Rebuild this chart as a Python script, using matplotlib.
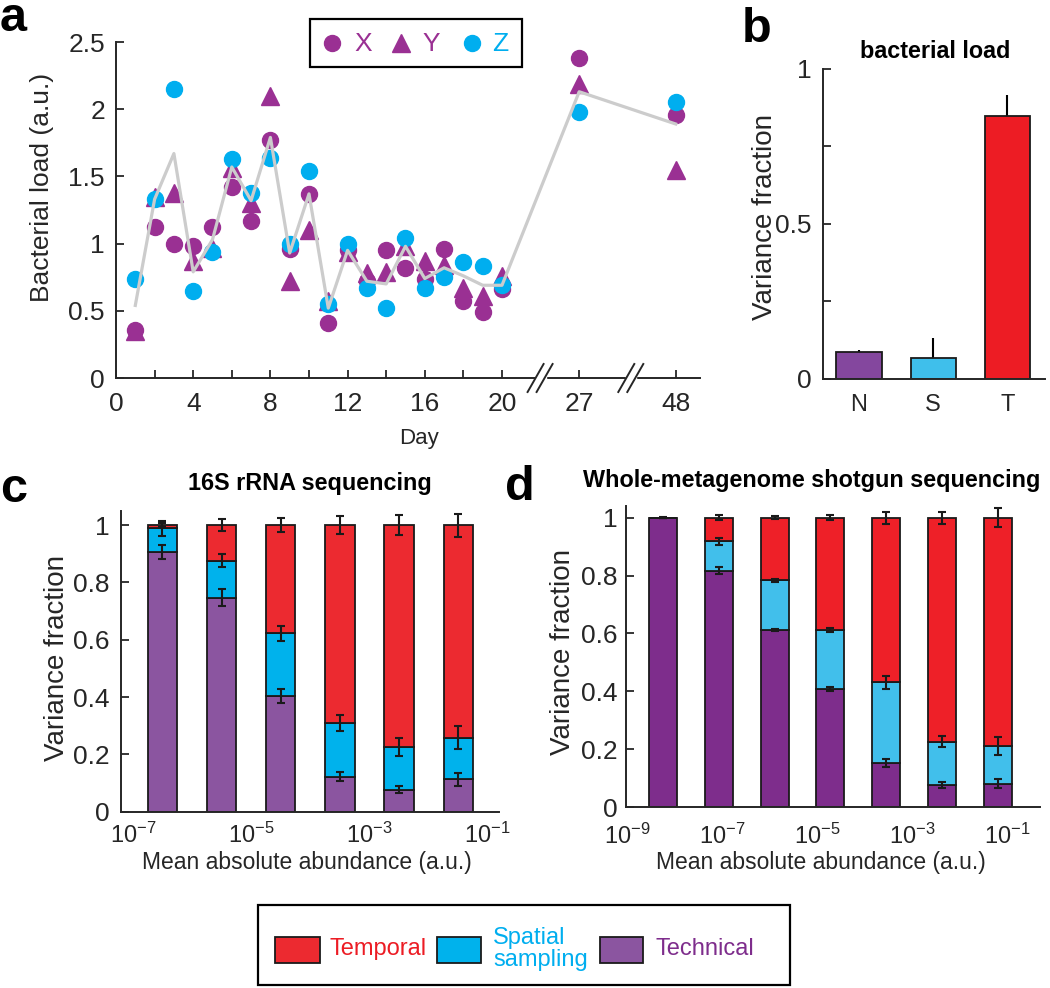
import numpy as np
import matplotlib
matplotlib.use("Agg")
import matplotlib.pyplot as plt
from matplotlib.lines import Line2D
from matplotlib.patches import Rectangle

plt.rcParams['font.family'] = ['Liberation Sans', 'DejaVu Sans']
plt.rcParams['mathtext.default'] = 'regular'

# ---------------- data ----------------
# panel a
days = [1, 2, 3, 4, 5, 6, 7, 8, 9, 10, 11, 12, 13, 14, 15, 16, 17, 18, 19, 20, 27, 48]
load_X = [0.36, 1.12, 1.00, 0.98, 1.12, 1.42, 1.17, 1.77, 0.96, 1.37, 0.41, 0.95, 0.72, 0.95,
          0.82, 0.74, 0.96, 0.57, 0.49, 0.66, 2.38, 1.96]
load_Y = [0.35, 1.35, 1.38, 0.87, 0.97, 1.56, 1.30, 2.10, 0.72, 1.10, 0.57, 0.94, 0.78, 0.79,
          0.98, 0.87, 0.84, 0.67, 0.61, 0.76, 2.19, 1.55]
load_Z = [0.74, 1.33, 2.15, 0.65, 0.94, 1.63, 1.38, 1.64, 1.00, 1.54, 0.55, 1.00, 0.67, 0.52,
          1.04, 0.67, 0.75, 0.86, 0.83, 0.69, 1.98, 2.05]
load_mean = [0.54, 1.33, 1.67, 0.79, 1.03, 1.57, 1.32, 1.79, 0.93, 1.37, 0.52, 0.95, 0.72, 0.70,
             0.98, 0.74, 0.82, 0.76, 0.69, 0.69, 2.13, 1.89]
day_ticks = [0, 4, 8, 12, 16, 20, 27, 48]

# panel b
b_labels = ['N', 'S', 'T']
b_values = [0.085, 0.066, 0.849]
b_err = [0.008, 0.067, 0.066]

# panel c (16S)
c_log_abund = [-6.5, -5.5, -4.5, -3.5, -2.5, -1.5]
c_technical = [0.906, 0.747, 0.403, 0.122, 0.076, 0.113]
c_spatial = [0.082, 0.129, 0.219, 0.188, 0.151, 0.145]
c_temporal = [0.012, 0.124, 0.378, 0.690, 0.773, 0.742]
c_err_technical = [0.026, 0.029, 0.024, 0.015, 0.012, 0.022]
c_err_spatial = [0.025, 0.024, 0.025, 0.028, 0.031, 0.041]
c_err_temporal = [0.008, 0.022, 0.026, 0.030, 0.035, 0.040]
c_ticks = [-7, -5, -3, -1]

# panel d (WMS)
d_log_abund = [-8.24, -7.06, -5.89, -4.72, -3.55, -2.37, -1.20]
d_technical = [1.000, 0.817, 0.612, 0.409, 0.153, 0.077, 0.082]
d_spatial = [0.000, 0.101, 0.171, 0.202, 0.279, 0.150, 0.130]
d_temporal = [0.000, 0.082, 0.217, 0.389, 0.568, 0.773, 0.788]
d_err_technical = [0.000, 0.013, 0.005, 0.007, 0.013, 0.010, 0.014]
d_err_spatial = [0.000, 0.012, 0.006, 0.007, 0.022, 0.020, 0.032]
d_err_temporal = [0.002, 0.008, 0.004, 0.008, 0.021, 0.021, 0.033]
d_ticks = [-9, -7, -5, -3, -1]

legend_labels = ['Temporal', 'Spatial\nsampling', 'Technical']

# ---------------- style ----------------
W, H = 1050, 988
fig = plt.figure(figsize=(W / 100, H / 100), dpi=100)
INK = '#262626'
PURPLE_A = '#9a3093'
BLUE_A = '#00aeef'
GRAY = '#cccccc'
TICK_FS = 19
LABEL_FS = 20


def rect(l, t, r, b):
    return [l / W, 1 - b / H, (r - l) / W, (b - t) / H]


def fx(x):
    return x / W


def fy(y):
    return 1 - y / H


def style(ax):
    for s in ['top', 'right']:
        ax.spines[s].set_visible(False)
    for s in ['left', 'bottom']:
        ax.spines[s].set_color(INK)
        ax.spines[s].set_linewidth(1.4)
    ax.tick_params(direction='in', length=6, width=1.3, colors=INK, labelsize=TICK_FS)
    ax.tick_params(which='minor', direction='in', length=6, width=1.3, colors=INK)


# ---------------- panel a ----------------
axa = fig.add_axes(rect(116, 42, 700, 378))
style(axa)


def day_pos(d):
    # broken axis: days 27 and 48 are placed after a gap
    return {27: 24.0, 48: 29.0}.get(d, float(d))


pos = [day_pos(d) for d in days]
axa.plot(pos, load_X, 'o', ms=11.5, color=PURPLE_A, mec=PURPLE_A, zorder=3, clip_on=False)
axa.plot(pos, load_Y, '^', ms=13.5, color=PURPLE_A, mec=PURPLE_A, zorder=3, clip_on=False)
axa.plot(pos, load_Z, 'o', ms=11.5, color=BLUE_A, mec=BLUE_A, zorder=4, clip_on=False)
axa.plot(pos, load_mean, '-', color=GRAY, lw=2.3, zorder=5)
axa.set_xlim(0, 30.26)
axa.set_ylim(0, 2.5)
axa.set_yticks([0, 0.5, 1, 1.5, 2, 2.5])
axa.set_yticklabels(['0', '0.5', '1', '1.5', '2', '2.5'])
axa.set_xticks([day_pos(d) for d in day_ticks])
axa.set_xticklabels([str(d) for d in day_ticks])
axa.set_xticks([2, 6, 10, 14, 18], minor=True)
axa.tick_params(axis='x', pad=10)
axa.tick_params(axis='y', pad=8)
fig.text(fx(42), fy(187), 'Bacterial load (a.u.)', rotation=90, ha='center', va='center',
         fontsize=19, color=INK)
fig.text(fx(419), fy(438), 'Day', ha='center', va='center', fontsize=16, color=INK)

# axis break marks
fig.canvas.draw()
for bp in [22.0, 26.7]:
    cx, cy = axa.transData.transform((bp, 0))
    fig.add_artist(Rectangle((cx - 5, cy - 3), 10, 6, transform=None, color='white', zorder=10))
    for dx in (-5, 4):
        fig.add_artist(Line2D([cx + dx - 8, cx + dx + 8], [cy - 14, cy + 14], transform=None,
                              color=INK, lw=1.4, zorder=11))

# legend a (manual)
fig.add_artist(Rectangle((fx(310), fy(67)), (522 - 310) / W, (67 - 19) / H, transform=fig.transFigure,
                         fill=False, ec='black', lw=1.6))
for mx, mk, col, lab, tx in [(332, 'o', PURPLE_A, 'X', 354), (401, '^', PURPLE_A, 'Y', 422),
                             (472, 'o', BLUE_A, 'Z', 492)]:
    fig.add_artist(Line2D([fx(mx)], [fy(43)], marker=mk, ms=11.5 if mk == 'o' else 13.5, color=col,
                          mec=col, transform=fig.transFigure))
    fig.text(fx(tx), fy(44), lab, ha='left', va='center', fontsize=19, color=col)

# ---------------- panel b ----------------
axb = fig.add_axes(rect(822.7, 69, 1045, 378.7))
style(axb)
xb = np.arange(1, len(b_labels) + 1)
axb.bar(xb, b_values, width=0.61, color=['#84479e', '#3fbfeb', '#ed1c24'], edgecolor='#1a1a1a',
        lw=1.3, zorder=2)
axb.errorbar(xb, b_values, yerr=[np.zeros(3), b_err], fmt='none', ecolor='black', elinewidth=1.5,
             capsize=0, zorder=1)
axb.set_xlim(0.51, 3.51)
axb.set_ylim(0, 1)
axb.set_yticks([0, 0.5, 1])
axb.set_yticklabels(['0', '0.5', '1'])
axb.set_yticks([0.25, 0.75], minor=True)
axb.set_xticks(xb)
axb.set_xticklabels(b_labels, fontsize=17)
axb.tick_params(axis='x', pad=11)
axb.tick_params(axis='y', pad=8)
fig.text(fx(765), fy(217), 'Variance fraction', rotation=90, ha='center', va='center', fontsize=LABEL_FS,
         color=INK)
fig.text(fx(935), fy(58), 'bacterial load', ha='center', va='baseline', fontsize=16.8, fontweight='bold',
         color='black')


# ---------------- panels c, d ----------------
def stacked(ax, xs, tech, spat, temp, et, es, etp, width, cols):
    tech = np.array(tech); spat = np.array(spat); temp = np.array(temp)
    ax.bar(xs, tech, width, color=cols[0], edgecolor='#1a1a1a', lw=1.3, zorder=2)
    ax.bar(xs, spat, width, bottom=tech, color=cols[1], edgecolor='#1a1a1a', lw=1.3, zorder=2)
    ax.bar(xs, temp, width, bottom=tech + spat, color=cols[2], edgecolor='#1a1a1a', lw=1.3, zorder=2)
    for yv, ev in [(tech, et), (tech + spat, es), (tech + spat + temp, etp)]:
        ax.errorbar(xs, yv, yerr=ev, fmt='none', ecolor='#1a1a1a', elinewidth=1.5, capsize=3,
                    capthick=1.5, zorder=3)


axc = fig.add_axes(rect(121, 511, 499, 811.7))
style(axc)
stacked(axc, c_log_abund, c_technical, c_spatial, c_temporal, c_err_technical, c_err_spatial,
        c_err_temporal, 0.495, ['#8b55a0', '#00b2ec', '#ec2a30'])
axc.set_xlim(-7.2, -0.81)
axc.set_ylim(0, 1.049)
axc.set_yticks([0, 0.2, 0.4, 0.6, 0.8, 1])
axc.set_yticklabels(['0', '0.2', '0.4', '0.6', '0.8', '1'])
axc.set_xticks(c_ticks)
axc.set_xticklabels(['$10^{%d}$' % t for t in c_ticks], fontsize=17)
axc.tick_params(axis='x', length=0, pad=8)
axc.tick_params(axis='y', pad=8)
fig.text(fx(57), fy(658), 'Variance fraction', rotation=90, ha='center', va='center', fontsize=LABEL_FS,
         color=INK)
fig.text(fx(307), fy(862), 'Mean absolute abundance (a.u.)', ha='center', va='center', fontsize=16.5,
         color=INK)
fig.text(fx(310), fy(490), '16S rRNA sequencing', ha='center', va='baseline', fontsize=16.8,
         fontweight='bold', color='black')

axd = fig.add_axes(rect(626, 506, 1040, 807.3))
style(axd)
stacked(axd, d_log_abund, d_technical, d_spatial, d_temporal, d_err_technical, d_err_spatial,
        d_err_temporal, 0.59, ['#7e2d8c', '#41bfeb', '#ee2028'])
axd.set_xlim(-9.02, -0.31)
axd.set_ylim(0, 1.04)
axd.set_yticks([0, 0.2, 0.4, 0.6, 0.8, 1])
axd.set_yticklabels(['0', '0.2', '0.4', '0.6', '0.8', '1'])
axd.set_xticks(d_ticks)
axd.set_xticklabels(['$10^{%d}$' % t for t in d_ticks], fontsize=17)
axd.tick_params(axis='x', length=0, pad=12)
axd.tick_params(axis='y', pad=6)
fig.text(fx(563), fy(652), 'Variance fraction', rotation=90, ha='center', va='center', fontsize=LABEL_FS,
         color=INK)
fig.text(fx(821), fy(862), 'Mean absolute abundance (a.u.)', ha='center', va='center', fontsize=16.5,
         color=INK)
fig.text(fx(812), fy(487), 'Whole-metagenome shotgun sequencing', ha='center', va='baseline',
         fontsize=16.8, fontweight='bold', color='black')

# ---------------- bottom legend ----------------
fig.add_artist(Rectangle((fx(258), fy(985)), 532 / W, 80 / H, transform=fig.transFigure, fill=False,
                         ec='black', lw=1.6))
leg_cols = ['#ec2a30', '#00b2ec', '#8b55a0']
leg_text_cols = ['#ec1c24', '#00aeef', '#7e2d8c']
for (pl, pr, tx), lab, col, tcol in zip([(275, 320, 330), (437, 481, 493), (600, 643, 655)],
                                        legend_labels, leg_cols, leg_text_cols):
    fig.add_artist(Rectangle((fx(pl), fy(963)), (pr - pl) / W, 26 / H, transform=fig.transFigure,
                             fc=col, ec='#1a1a1a', lw=1.3))
    fig.text(fx(tx), fy(949), lab, ha='left', va='center', fontsize=17, color=tcol, linespacing=0.95)

# ---------------- panel letters ----------------
for lab, x, y in [('a', 0, 31), ('b', 742, 42), ('c', 0, 502), ('d', 505, 500)]:
    fig.text(fx(x), fy(y), lab, ha='left', va='baseline', fontsize=35, fontweight='bold', color='black')

fig.savefig('out.png', dpi=100)
